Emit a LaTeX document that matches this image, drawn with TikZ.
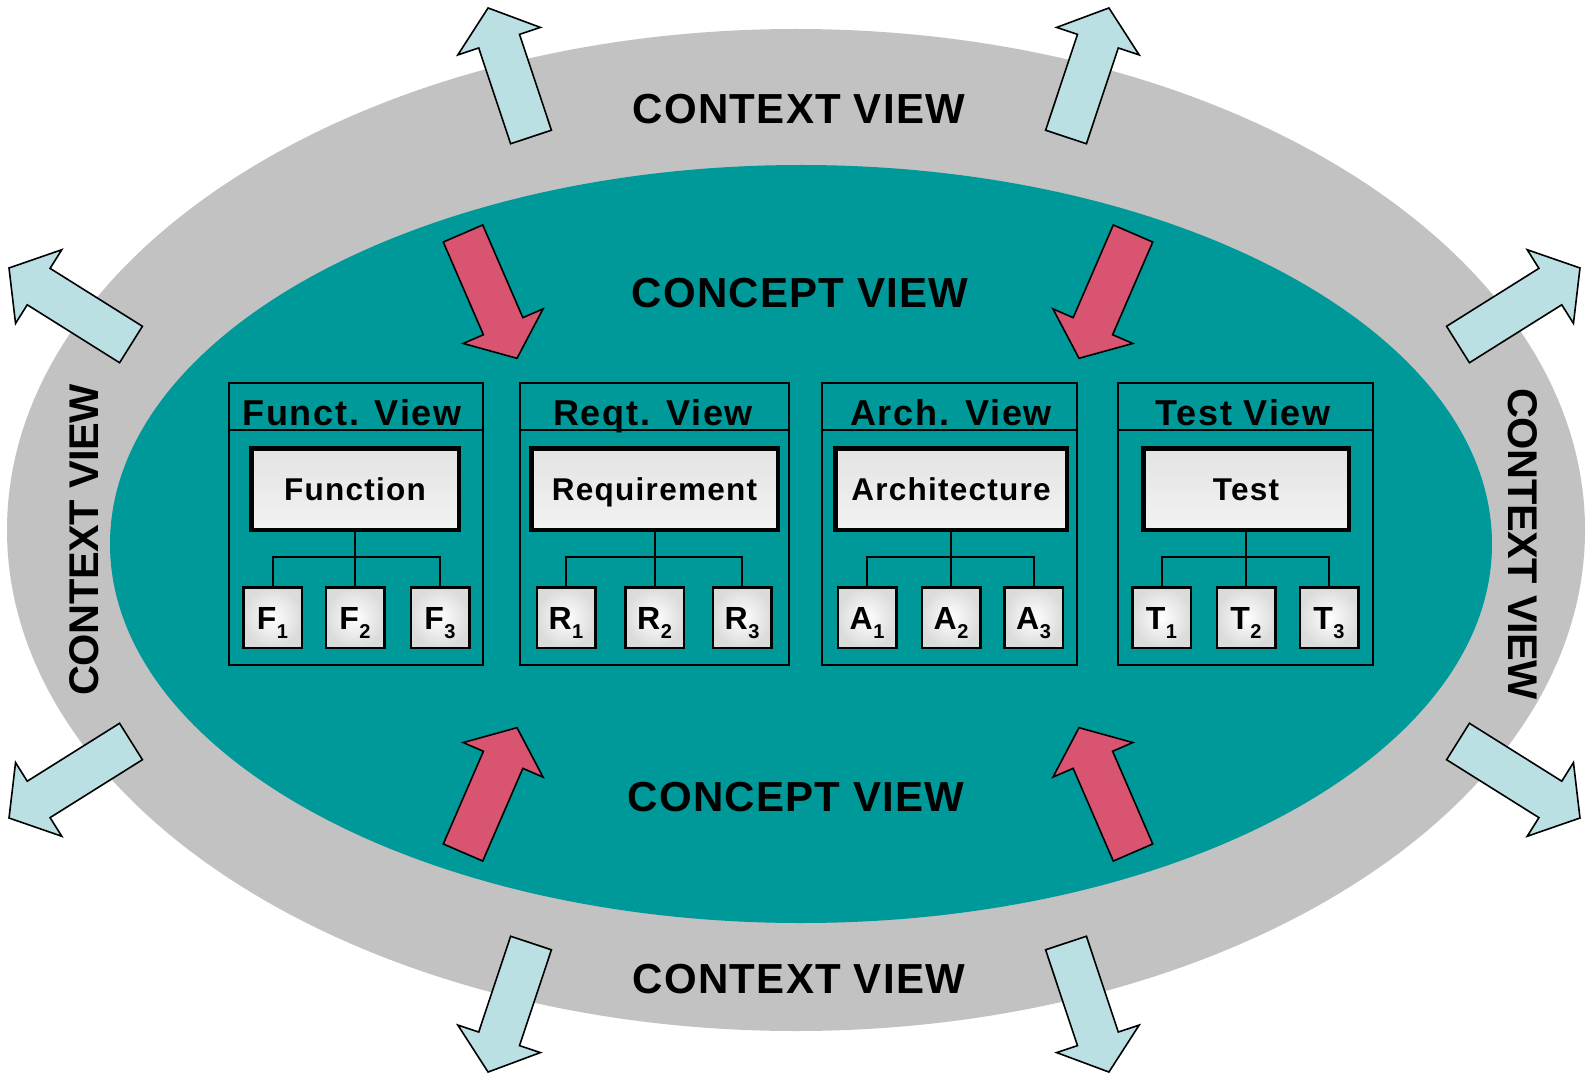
\documentclass[tikz,border=0pt]{standalone}
\usepackage{fontspec}
\setmainfont{Liberation Sans}
\newfontfamily\ringfont{Liberation Sans}[LetterSpace=3]
\newfontfamily\sidefont{Liberation Sans}[LetterSpace=-1]
\newfontfamily\titlefont{Liberation Sans}[LetterSpace=5]
\newfontfamily\boxfont{Liberation Sans}[LetterSpace=4]

\definecolor{ringgray}{RGB}{194,194,194}
\definecolor{conceptteal}{RGB}{0,153,153}
\definecolor{contextblue}{RGB}{187,224,227}
\definecolor{conceptred}{RGB}{216,84,112}

% block arrow: tail centre (#2,#3), direction #4 (degrees), length #5
\newcommand\blockarrow[5]{%
  \draw[#1, shift={(#2,#3)}, rotate=#4]
    (0,-21.5) -- (#5-35,-21.5) -- (#5-35,-43.5) -- (#5,0)
    -- (#5-35,43.5) -- (#5-35,21.5) -- (0,21.5) -- cycle;}

% item label with a lowered index
\newcommand\itemlbl[2]{#1\kern0.5pt\raisebox{-9pt}[0pt][0pt]{\fontsize{20}{20}\selectfont #2}}

\begin{document}
\begin{tikzpicture}[x=1pt, y=-1pt,
  bluearrow/.style={draw=black, line width=1.6pt, line join=miter, fill=contextblue},
  redarrow/.style={draw=black, line width=1.6pt, line join=miter, fill=conceptred},
  ringtext/.style={inner sep=0pt, text height=30pt, text depth=0pt,
    font=\ringfont\bfseries\fontsize{42}{42}\selectfont},
  sidetext/.style={inner sep=0pt, text height=30pt, text depth=0pt,
    font=\sidefont\bfseries\fontsize{41.5}{42}\selectfont},
  viewframe/.style={draw=black, line width=2pt, rectangle, inner sep=0pt,
    outer sep=0pt, minimum height=282pt},
  viewtitle/.style={anchor=base, inner sep=0pt,
    font=\titlefont\bfseries\fontsize{36}{36}\selectfont},
  headbox/.style={draw=black, line width=4.5pt, rectangle, inner sep=0pt,
    outer sep=0pt, minimum height=81.5pt, top color=gray!22,
    middle color=white, bottom color=gray!10, text height=22.5pt, text depth=0pt,
    font=\boxfont\bfseries\fontsize{31.5}{32}\selectfont},
  itembox/.style={draw=black, line width=2.5pt, rectangle, inner sep=0pt,
    outer sep=0pt, minimum width=58.5pt, minimum height=60.5pt,
    inner color=white, outer color=gray!28, text height=23pt, text depth=0pt,
    font=\bfseries\fontsize{32}{32}\selectfont},
  conn/.style={draw=black, line width=2pt}
]
\useasboundingbox (0,0) rectangle (1588,1075);

% context ring and concept area
\fill[ringgray] (796,530) ellipse [x radius=789pt, y radius=501pt];
\fill[conceptteal] (801,544) ellipse [x radius=691pt, y radius=379pt];

% outward context arrows
\blockarrow{bluearrow}{531}{137}{108.4}{136}
\blockarrow{bluearrow}{1066}{137}{71.6}{136}
\blockarrow{bluearrow}{531}{943}{-108.4}{136}
\blockarrow{bluearrow}{1066}{943}{-71.6}{136}
\blockarrow{bluearrow}{131}{344.5}{147.9}{144}
\blockarrow{bluearrow}{1458}{344.5}{32.1}{144}
\blockarrow{bluearrow}{131}{741.5}{-147.9}{144}
\blockarrow{bluearrow}{1458}{741.5}{-32.1}{144}

% inward concept arrows
\blockarrow{redarrow}{463}{233.5}{-66.6}{136}
\blockarrow{redarrow}{1133}{233.5}{-113.4}{136}
\blockarrow{redarrow}{463}{852.5}{66.6}{136}
\blockarrow{redarrow}{1133}{852.5}{113.4}{136}

% ring labels
\node[ringtext] (ctxtop) at (799,109) {CONTEXT VIEW};
\node[ringtext] (ctxbottom) at (799,978) {CONTEXT VIEW};
\node[sidetext, rotate=90] (ctxleft) at (83,540) {CONTEXT VIEW};
\node[sidetext, rotate=-90] (ctxright) at (1523,544) {CONTEXT VIEW};
\node[ringtext] (cpttop) at (800,293) {CONCEPT VIEW};
\node[ringtext] (cptbottom) at (796,796) {CONCEPT VIEW};

% view frames
\node[viewframe, minimum width=254pt] (fview) at (356,524) {};
\node[viewframe, minimum width=269pt] (rview) at (654.5,524) {};
\node[viewframe, minimum width=255pt] (aview) at (949.5,524) {};
\node[viewframe, minimum width=255pt] (tview) at (1245.5,524) {};
\foreach \v in {fview,rview,aview,tview}
  \draw[conn] (\v.west |- {(0,430)}) -- (\v.east |- {(0,430)});

\node[viewtitle] (ftitle) at (352,425) {Funct. View};
\node[viewtitle] (rtitle) at (653,425) {Reqt. View};
\node[viewtitle] (atitle) at (951,425) {Arch. View};
\node[viewtitle] (ttitle) at (1243,425) {Test View};

% head elements
\node[headbox, minimum width=207.5pt] (ftop) at (355,489) {Function};
\node[headbox, minimum width=246.5pt] (rtop) at (654.5,489) {Requirement};
\node[headbox, minimum width=231.5pt] (atop) at (951,489) {Architecture};
\node[headbox, minimum width=205.5pt] (ttop) at (1246,489) {Test};

% sub elements
\node[itembox] (f1) at (272.5,617.5) {\itemlbl{F}{1}};
\node[itembox] (f2) at (355,617.5) {\itemlbl{F}{2}};
\node[itembox] (f3) at (440,617.5) {\itemlbl{F}{3}};
\node[itembox] (r1) at (566,617.5) {\itemlbl{R}{1}};
\node[itembox] (r2) at (654.5,617.5) {\itemlbl{R}{2}};
\node[itembox] (r3) at (742,617.5) {\itemlbl{R}{3}};
\node[itembox] (a1) at (867,617.5) {\itemlbl{A}{1}};
\node[itembox] (a2) at (951,617.5) {\itemlbl{A}{2}};
\node[itembox] (a3) at (1033.5,617.5) {\itemlbl{A}{3}};
\node[itembox] (t1) at (1161.5,617.5) {\itemlbl{T}{1}};
\node[itembox] (t2) at (1246,617.5) {\itemlbl{T}{2}};
\node[itembox] (t3) at (1329,617.5) {\itemlbl{T}{3}};

% trees
\foreach \p in {f,r,a,t} {
  \draw[conn] (\p top.south) -- (\p 2.north);
  \draw[conn] (\p top.south) -- ++(0,27) -| (\p 1.north);
  \draw[conn] (\p top.south) -- ++(0,27) -| (\p 3.north);
}
\end{tikzpicture}
\end{document}
